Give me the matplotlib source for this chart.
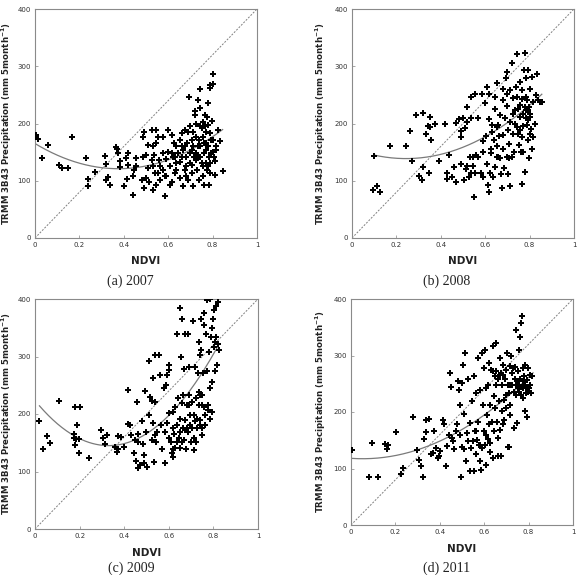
import numpy as np
import matplotlib
matplotlib.use("Agg")
import matplotlib.pyplot as plt

# ---------------- data (NDVI, precipitation mm) ----------------
points_2007 = [(0.004,180),(0.015,173),(0.03,140),(0.06,162),(0.11,128),(0.12,123),(0.15,123),(0.165,177),
    (0.23,139),(0.24,103),(0.24,90),(0.27,115),(0.315,143),(0.32,129),(0.32,101),(0.33,106),(0.34,92),
    (0.365,159),(0.37,156),(0.375,148),(0.385,134),(0.385,124),(0.40,90),(0.41,140),(0.42,128),(0.42,148),
    (0.415,103),(0.44,75),(0.44,109),(0.445,118),(0.455,125),(0.457,139),(0.48,102),(0.487,142),(0.487,177),
    (0.49,186),(0.50,145),(0.51,162),(0.51,122),(0.50,105),(0.515,97),(0.49,87),(0.525,189),(0.525,137),
    (0.53,125),(0.53,84),(0.54,113),(0.547,189),(0.555,177),(0.547,166),(0.56,137),(0.547,93),(0.562,102),
    (0.585,73),(0.577,177),(0.577,119),(0.585,108),(0.59,138),(0.60,151),(0.60,189),(0.61,125),(0.607,93),
    (0.617,97),(0.615,180),(0.625,166),(0.63,142),(0.63,113),(0.637,131),(0.645,148),(0.652,133),(0.652,105),
    (0.66,183),(0.66,160),(0.667,90),(0.675,189),(0.68,142),(0.682,125),(0.69,102),(0.694,247),(0.697,195),
    (0.705,171),(0.705,154),(0.709,113),(0.712,90),(0.72,221),(0.72,215),(0.724,137),(0.727,177),(0.735,160),
    (0.735,241),(0.74,102),(0.742,260),(0.742,227),(0.745,142),(0.75,192),(0.755,125),(0.757,203),(0.76,166),
    (0.76,93),(0.765,215),(0.77,154),(0.772,186),(0.775,119),(0.78,235),(0.78,198),(0.784,142),(0.784,93),
    (0.787,262),(0.79,267),(0.793,171),(0.796,205),(0.80,269),(0.802,286),(0.802,151),(0.81,134),(0.81,110),
    (0.817,160),(0.825,189),(0.832,169),(0.847,117),(0.637,160),(0.652,171),(0.667,154),(0.675,119),
    (0.685,166),(0.697,148),(0.70,131),(0.712,160),(0.715,142),(0.727,148),(0.73,119),(0.74,171),(0.742,160),
    (0.75,131),(0.755,177),(0.76,148),(0.77,131),(0.772,166),(0.78,160),(0.787,131),(0.79,183),(0.795,148),
    (0.802,171),(0.805,142),(0.814,154),(0.622,142),(0.615,148),(0.634,119),(0.66,142),(0.675,160),(0.69,186),
    (0.712,186),(0.727,200),(0.742,195),(0.765,195),(0.775,212),(0.757,108),(0.682,108),(0.577,148),
    (0.562,125),(0.555,113),(0.535,145),(0.59,108),(0.532,160),(0.787,113),(0.78,125),(0.705,128),(0.735,142)]

points_2008 = [(0.095,83),(0.113,91),(0.125,80),(0.1,143),(0.17,160),(0.242,160),(0.263,187),(0.272,134),
    (0.29,214),(0.302,108),(0.317,101),(0.32,219),(0.32,124),(0.333,181),(0.343,196),(0.35,212),(0.35,194),
    (0.347,114),(0.357,172),(0.376,199),(0.392,135),(0.419,199),(0.428,113),(0.428,103),(0.435,145),
    (0.451,107),(0.459,124),(0.468,201),(0.47,97),(0.481,208),(0.489,187),(0.489,129),(0.493,177),(0.5,209),
    (0.503,101),(0.508,193),(0.516,228),(0.52,203),(0.519,126),(0.528,107),(0.53,141),(0.534,113),
    (0.538,209),(0.538,247),(0.546,125),(0.55,71),(0.555,252),(0.553,113),(0.56,145),(0.568,209),(0.579,114),
    (0.587,252),(0.588,170),(0.59,107),(0.598,235),(0.603,178),(0.606,264),(0.609,130),(0.613,93),(0.615,80),
    (0.618,207),(0.618,252),(0.621,114),(0.624,148),(0.629,197),(0.63,186),(0.636,107),(0.642,226),
    (0.645,247),(0.651,142),(0.654,270),(0.654,160),(0.659,197),(0.663,178),(0.666,139),(0.669,111),
    (0.674,87),(0.678,260),(0.681,156),(0.684,122),(0.689,209),(0.693,279),(0.696,230),(0.699,290),
    (0.704,188),(0.705,165),(0.707,139),(0.711,90),(0.719,305),(0.723,217),(0.726,244),(0.729,150),
    (0.734,200),(0.738,264),(0.741,322),(0.746,182),(0.749,226),(0.753,162),(0.756,273),(0.759,212),
    (0.761,150),(0.764,243),(0.768,95),(0.771,196),(0.776,293),(0.779,324),(0.78,115),(0.783,279),
    (0.786,223),(0.789,241),(0.791,171),(0.794,293),(0.795,206),(0.798,139),(0.801,261),(0.804,216),
    (0.808,191),(0.811,282),(0.814,238),(0.817,177),(0.824,200),(0.829,250),(0.832,287),(0.839,241),
    (0.847,238),(0.854,238),(0.771,217),(0.779,229),(0.786,209),(0.794,223),(0.798,229),(0.801,212),
    (0.789,197),(0.764,177),(0.756,188),(0.741,194),(0.734,223),(0.723,182),(0.711,203),(0.696,142),
    (0.681,180),(0.666,215),(0.651,194),(0.639,171),(0.704,111),(0.719,142),(0.771,150),(0.809,156),
    (0.801,182),(0.783,247),(0.768,258),(0.756,232),(0.741,247),(0.711,258),(0.696,252),(0.681,241),
    (0.659,142),(0.642,124),(0.626,156),(0.59,150),(0.569,142),(0.543,142),(0.513,121)]

points_2009 = [(0.02,187),(0.037,139),(0.055,161),(0.067,150),(0.108,223),(0.175,165),(0.175,158),
    (0.178,213),(0.178,146),(0.184,156),(0.187,181),(0.196,157),(0.202,213),(0.199,133),(0.243,123),
    (0.298,173),(0.307,159),(0.316,148),(0.322,163),(0.359,143),(0.367,134),(0.374,140),(0.371,162),
    (0.385,160),(0.397,143),(0.415,183),(0.419,242),(0.424,181),(0.43,163),(0.442,132),(0.449,155),
    (0.452,118),(0.457,221),(0.46,152),(0.461,106),(0.464,166),(0.472,111),(0.479,187),(0.484,148),
    (0.487,129),(0.49,114),(0.494,240),(0.497,169),(0.502,108),(0.509,198),(0.512,293),(0.516,230),
    (0.524,223),(0.524,155),(0.528,262),(0.531,184),(0.534,117),(0.536,163),(0.539,221),(0.539,303),
    (0.543,152),(0.546,169),(0.558,303),(0.561,268),(0.564,181),(0.569,140),(0.579,245),(0.584,169),
    (0.585,114),(0.588,250),(0.591,184),(0.594,268),(0.599,285),(0.599,201),(0.602,158),(0.603,276),
    (0.609,152),(0.614,132),(0.617,175),(0.618,204),(0.621,126),(0.624,166),(0.627,213),(0.63,141),
    (0.636,340),(0.639,181),(0.641,227),(0.644,158),(0.648,384),(0.648,192),(0.651,141),(0.654,300),
    (0.657,219),(0.659,366),(0.662,175),(0.663,233),(0.666,155),(0.669,279),(0.671,340),(0.674,190),
    (0.677,140),(0.681,216),(0.684,340),(0.686,169),(0.689,282),(0.692,233),(0.696,181),(0.699,152),
    (0.704,221),(0.707,361),(0.711,137),(0.714,198),(0.717,282),(0.72,152),(0.723,227),(0.726,175),
    (0.73,271),(0.734,326),(0.735,239),(0.738,303),(0.741,190),(0.744,311),(0.745,366),(0.749,233),
    (0.751,163),(0.753,271),(0.756,213),(0.759,355),(0.76,375),(0.763,198),(0.763,181),(0.766,339),
    (0.771,274),(0.772,398),(0.774,216),(0.778,207),(0.781,308),(0.783,192),(0.786,245),(0.786,400),
    (0.789,334),(0.792,349),(0.793,256),(0.795,204),(0.798,366),(0.801,317),(0.804,381),(0.805,325),
    (0.808,274),(0.811,334),(0.813,387),(0.816,285),(0.819,322),(0.82,394),(0.823,311),(0.681,175),
    (0.704,175),(0.726,192),(0.734,216),(0.741,233),(0.696,198),(0.674,172),(0.659,152),(0.636,152),
    (0.711,158),(0.738,181),(0.749,175),(0.651,169),(0.689,216),(0.621,140),(0.717,187),(0.749,216)]

points_2011 = [(0.005,132),(0.083,85),(0.095,146),(0.12,85),(0.155,143),(0.161,134),(0.167,141),
    (0.203,165),(0.226,91),(0.233,101),(0.281,191),(0.298,133),(0.308,115),(0.316,104),(0.323,85),
    (0.328,152),(0.338,164),(0.338,186),(0.35,188),(0.361,125),(0.368,128),(0.376,167),(0.383,136),
    (0.391,119),(0.398,122),(0.403,131),(0.413,186),(0.418,178),(0.429,105),(0.431,139),(0.44,160),
    (0.444,269),(0.451,245),(0.456,154),(0.459,148),(0.466,134),(0.474,166),(0.478,178),(0.481,254),
    (0.486,239),(0.489,213),(0.492,160),(0.496,85),(0.498,138),(0.501,252),(0.504,284),(0.507,135),
    (0.511,197),(0.514,304),(0.519,113),(0.522,163),(0.526,148),(0.529,259),(0.534,95),(0.537,181),
    (0.541,136),(0.546,219),(0.549,148),(0.552,95),(0.555,263),(0.558,166),(0.561,126),(0.564,233),
    (0.567,151),(0.571,295),(0.574,183),(0.576,141),(0.579,239),(0.582,113),(0.586,98),(0.588,304),
    (0.591,136),(0.594,213),(0.597,166),(0.599,278),(0.602,310),(0.603,141),(0.606,107),(0.609,242),
    (0.612,195),(0.615,152),(0.617,248),(0.62,286),(0.621,179),(0.624,213),(0.627,145),(0.632,275),
    (0.635,183),(0.638,316),(0.639,119),(0.642,229),(0.644,166),(0.647,263),(0.65,207),(0.651,272),
    (0.654,323),(0.657,183),(0.66,122),(0.663,259),(0.666,219),(0.669,295),(0.672,168),(0.674,122),
    (0.677,269),(0.68,201),(0.681,248),(0.684,284),(0.687,222),(0.69,186),(0.692,259),(0.696,275),
    (0.699,207),(0.702,304),(0.705,138),(0.707,248),(0.71,233),(0.711,138),(0.714,281),(0.717,213),
    (0.722,299),(0.725,269),(0.726,248),(0.729,278),(0.732,172),(0.735,236),(0.737,259),(0.74,279),
    (0.741,248),(0.744,345),(0.747,180),(0.75,254),(0.753,272),(0.756,236),(0.759,310),(0.762,259),
    (0.763,333),(0.767,245),(0.768,357),(0.771,370),(0.774,278),(0.777,225),(0.78,263),(0.782,248),
    (0.785,201),(0.786,284),(0.789,233),(0.792,257),(0.795,192),(0.797,278),(0.802,242),(0.805,266),
    (0.811,233),(0.817,263),(0.782,284),(0.767,230),(0.752,242),(0.744,230),(0.759,248),(0.774,242),
    (0.789,245),(0.797,236),(0.805,248),(0.774,254),(0.714,248),(0.699,230),(0.684,266),(0.669,266),
    (0.654,248),(0.639,272),(0.714,195),(0.684,178),(0.662,154),(0.624,130),(0.609,160),(0.579,142),
    (0.564,166)]

# quadratic trend coefficients (a, b, c) for a*x^2 + b*x + c and NDVI range of the curve
trend_2007 = (311.0, -233.9, 165.0); trend_range_2007 = (0.0, 0.845)
trend_2008 = (300.0, -145.7, 156.4); trend_range_2008 = (0.098, 0.855)
trend_2009 = (720.0, -475.2, 223.4); trend_range_2009 = (0.02, 0.822)
trend_2011 = (258.0, -27.0, 118.0); trend_range_2011 = (0.005, 0.82)

captions = ["(a) 2007", "(b) 2008", "(c) 2009", "(d) 2011"]
x_ticks = [0, 0.2, 0.4, 0.6, 0.8, 1]
x_ticklabels = ["0", "0.2", "0.4", "0.6", "0.8", "1"]
y_ticks = [0, 100, 200, 300, 400]
y_ticklabels = ["0", "100", "200", "300", "400"]
one_to_one_x = [0, 1]
one_to_one_y = [0, 400]

# ---------------- figure ----------------
W, H = 580, 575
fig = plt.figure(figsize=(W / 100, H / 100), dpi=100)

def frac(l, t, r, b):
    return [l / W, 1 - b / H, (r - l) / W, (b - t) / H]

# axes boxes in pixels (left, top, right, bottom)
boxes = [(35, 9, 257, 238), (352, 9, 574, 238), (35, 299, 258, 529), (351, 299, 573, 525)]
caption_pos = [(130, 281), (447, 281), (131, 568), (447, 568)]
ylabel_x = [-0.094, -0.108, -0.094, -0.104]
panels = [(points_2007, trend_2007, trend_range_2007),
          (points_2008, trend_2008, trend_range_2008),
          (points_2009, trend_2009, trend_range_2009),
          (points_2011, trend_2011, trend_range_2011)]

for i, ((pts, coef, rng), box) in enumerate(zip(panels, boxes)):
    ax = fig.add_axes(frac(*box))
    xs = np.array([p[0] for p in pts])
    ys = np.array([p[1] for p in pts])
    ax.plot(one_to_one_x, one_to_one_y, color="#808080", lw=0.7, ls=(0, (2, 1.5)), zorder=1)
    xc = np.linspace(rng[0], rng[1], 200)
    ax.plot(xc, np.polyval(coef, xc), color="#7a7a7a", lw=0.9, zorder=2)
    ax.scatter(xs, ys, marker="P", s=14, color="black", linewidths=0, zorder=3)
    ax.set_xlim(0, 1)
    ax.set_ylim(0, 400)
    ax.set_xticks(x_ticks)
    ax.set_xticklabels(x_ticklabels)
    ax.set_yticks(y_ticks)
    ax.set_yticklabels(y_ticklabels)
    ax.tick_params(direction="in", length=2, width=0.6, color="#999999",
                   labelsize=5, labelcolor="#333333", pad=3)
    for s in ax.spines.values():
        s.set_color("#8a8a8a")
        s.set_linewidth(0.8)
    ax.set_xlabel("NDVI", fontsize=7.5, fontweight="bold", color="#222222", labelpad=6)
    ax.set_ylabel("TRMM 3B43 Precipitation (mm 5month$^{\\mathbf{-1}}$)", fontsize=6.2,
                  fontweight="bold", color="#222222")
    ax.yaxis.set_label_coords(ylabel_x[i], 0.5)
    cx, cy = caption_pos[i]
    fig.text(cx / W, 1 - cy / H, captions[i], ha="center", va="center",
             fontsize=10, family="Liberation Serif", color="#222222")

fig.savefig("out.png", dpi=100)
